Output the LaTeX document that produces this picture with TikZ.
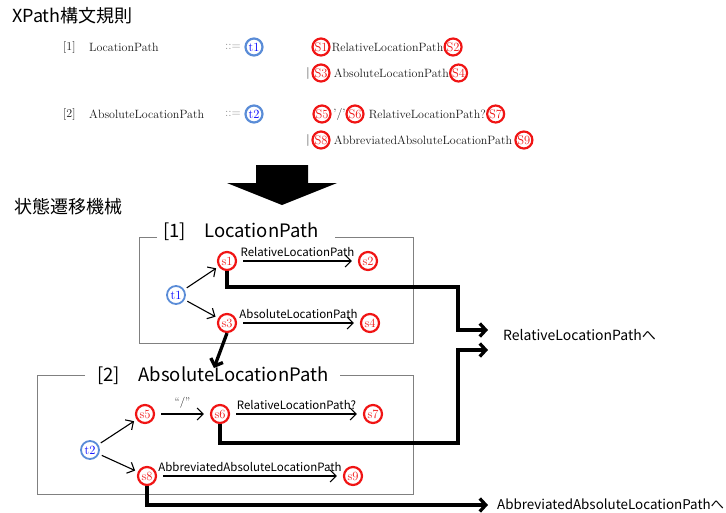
\documentclass[tikz,border=0pt]{standalone}
\usepackage{fontspec}
\newfontfamily\jp{Noto Sans CJK JP}
\usetikzlibrary{positioning,arrows.meta}

\definecolor{tblue}{RGB}{90,140,215}
\definecolor{sred}{RGB}{240,20,20}

\tikzset{
  sym/.style={circle, draw=sred, line width=2.2pt, text=sred, inner sep=0pt,
    minimum size=17pt, font=\fontsize{12.5}{12.5}\selectfont},
  tsym/.style={sym, draw=tblue, text=blue},
  st/.style={sym, minimum size=18pt},
  tst/.style={st, draw=tblue, text=blue, line width=1.8pt},
  rule/.style={inner sep=0pt, text=black!90, font=\fontsize{12}{14}\selectfont},
  lab/.style={font=\jp\fontsize{11.5}{12}\selectfont, inner sep=4pt},
  head/.style={font=\jp\fontsize{18}{18}\selectfont, inner sep=0pt},
  frame/.style={draw=gray, line width=0.8pt},
  trans/.style={-{Straight Barb[length=6pt,width=12pt]}, line width=1.1pt,
    shorten >=3pt, shorten <=3pt},
  jump/.style={-{Straight Barb[length=6pt,width=13pt]}, line width=3.3pt}
}

\begin{document}
\begin{tikzpicture}[x=1pt, y=-1pt]
\useasboundingbox (0,0) rectangle (726,512);

% grammar
\node[head, anchor=west] (title) at (12,16) {XPath構文規則};

\node[rule, anchor=west] (n1) at (63,47) {[1]};
\node[rule, anchor=west] (lp) at (89,47) {LocationPath};
\node[rule, anchor=west, text=black!45] (def1) at (225,47) {::=};
\node[tsym] (T1) at (254,47) {t1};
\node[sym] (S1) at (321,47) {S1};
\node[rule, right=1pt of S1] (rlp1) {RelativeLocationPath};
\node[sym, right=0pt of rlp1] (S2) {S2};

\node[rule] (bar1) at (308,73) {\textbar};
\node[sym] (S3) at (321,73) {S3};
\node[rule, right=3pt of S3] (alp1) {AbsoluteLocationPath};
\node[sym, right=0pt of alp1] (S4) {S4};

\node[rule, anchor=west] (n2) at (63,114) {[2]};
\node[rule, anchor=west] (alp) at (89,114) {AbsoluteLocationPath};
\node[rule, anchor=west, text=black!45] (def2) at (225,114) {::=};
\node[tsym] (T2) at (254,114) {t2};
\node[sym] (S5) at (322,114) {S5};
\node[rule, right=1.5pt of S5] (slash) {'/'};
\node[sym] (S6) at (355,114) {S6};
\node[rule, right=4pt of S6] (rlp2) {RelativeLocationPath?};
\node[sym, right=0pt of rlp2] (S7) {S7};

\node[rule] (bar2) at (308,140) {\textbar};
\node[sym] (S8) at (321,140) {S8};
\node[rule, right=3pt of S8] (aalp) {AbbreviatedAbsoluteLocationPath};
\node[sym, right=2pt of aalp] (S9) {S9};

% big arrow
\fill (256,165) -- (308,165) -- (308,183) -- (337,183) -- (282,205)
  -- (227,183) -- (256,183) -- cycle;

\node[head, anchor=west] (fsm) at (14,207) {状態遷移機械};

% [1] LocationPath
\draw[frame] (157,237) -- (139,237) -- (139,343) -- (413,343) -- (413,237) -- (335,237);
\node[head, font=\jp\fontsize{18.5}{19}\selectfont, anchor=base west] (box1) at (163,237) {[1]\quad LocationPath};

\node[tst] (t1) at (176,295) {t1};
\node[st] (s1) at (227,261) {s1};
\node[st, on grid, right=141pt of s1] (s2) {s2};
\node[st] (s3) at (227,323) {s3};
\node[st, on grid, right=143pt of s3] (s4) {s4};

\draw[trans] (t1) -- (s1);
\draw[trans] (t1) -- (s3);
\draw[trans, shorten <=6pt, shorten >=6pt] (s1) -- node[lab, above] {RelativeLocationPath} (s2);
\draw[trans, shorten <=6pt, shorten >=6pt] (s3) -- node[lab, above] {AbsoluteLocationPath} (s4);

% [2] AbsoluteLocationPath
\draw[frame] (85,375) -- (37,375) -- (37,494) -- (413,494) -- (413,375) -- (340,375);
\node[head, font=\jp\fontsize{18.5}{19}\selectfont, anchor=base west] (box2) at (97,381) {[2]\quad AbsoluteLocationPath};

\node[tst] (t2) at (90,450) {t2};
\node[st] (s5) at (145,414) {s5};
\node[st, on grid, right=75pt of s5] (s6) {s6};
\node[st, on grid, right=153pt of s6] (s7) {s7};
\node[st] (s8) at (147,476) {s8};
\node[st, on grid, right=206pt of s8] (s9) {s9};

\draw[trans] (t2) -- (s5);
\draw[trans] (t2) -- (s8);
\draw[trans, shorten <=6pt, shorten >=6pt] (s5) -- node[above, inner sep=5pt, font=\fontsize{11}{11}\selectfont] {``/''} (s6);
\draw[trans, shorten <=6pt, shorten >=6pt] (s6) -- node[lab, above] {RelativeLocationPath?} (s7);
\draw[trans, shorten <=6pt, shorten >=6pt] (s8) -- node[lab, above] {AbbreviatedAbsoluteLocationPath} (s9);

% exits
\coordinate (rel1) at (488,330);
\coordinate (rel2) at (488,350);
\coordinate (abb) at (488,505);
\coordinate (abs) at (214,368);
\node[lab, anchor=west, font=\jp\fontsize{14}{14}\selectfont] (relout) at (499,335) {RelativeLocationPathへ};
\node[lab, anchor=west, inner sep=0pt, font=\jp\fontsize{13.4}{14}\selectfont] (abbout) at (497,504) {AbbreviatedAbsoluteLocationPathへ};

\draw[jump] (s1.south) |- (458,287) |- (rel1);
\draw[jump] (s6.south) |- (458,443) |- (rel2);
\draw[jump] (s8.south) |- (abb);
\draw[jump] (s3.south) -- (abs);
\end{tikzpicture}
\end{document}
